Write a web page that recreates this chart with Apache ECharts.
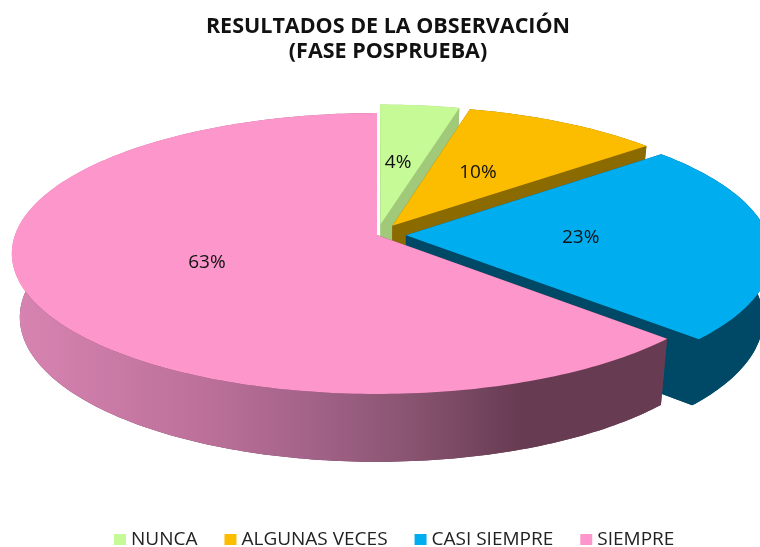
<!DOCTYPE html>
<html>
<head>
<meta charset="utf-8">
<style>
  html, body { margin: 0; padding: 0; background: #fff; }
  #chart { width: 760px; height: 547px; }
</style>
<script src="https://cdn.jsdelivr.net/npm/echarts@6/dist/echarts.min.js"></script>
</head>
<body>
<div id="chart"></div>
<script>
const categories = ['NUNCA', 'ALGUNAS VECES', 'CASI SIEMPRE', 'SIEMPRE'];
const percents = [4, 10, 23, 63];
const exploded = [true, true, true, false];

const topColors = ['#C6FA96', '#FCBC00', '#00AEEF', '#FD96CA'];
const sideColors = ['#A1C97A', '#8B6A00', '#004966', '#673B52'];

// pie plane -> screen, a perspective projection of the unit circle
const topPlane = { cx: 377, cy: 235, a: 362, b: 138, k: 0.1317 };
const bottomPlane = { cx: 377, cy: 298, a: 354, b: 142, k: 0.133 };
const explodeDist = 0.08;
const labelRadius = 0.49;
const labelShiftX = -3;

const total = percents.reduce((a, b) => a + b, 0);

function project(plane, u, v) {
    const w = 1 - plane.k * v;
    return [plane.cx + plane.a * u / w, plane.cy + plane.b * v / w];
}

// angle is clockwise from 12 o'clock
function unit(deg) {
    const r = deg * Math.PI / 180;
    return [Math.sin(r), -Math.cos(r)];
}

function sliceAngles(idx) {
    let before = 0;
    for (let i = 0; i < idx; i++) before += percents[i];
    return [before / total * 360, (before + percents[idx]) / total * 360];
}

function sliceOffset(idx) {
    if (!exploded[idx]) return [0, 0];
    const [start, end] = sliceAngles(idx);
    const m = unit((start + end) / 2);
    return [m[0] * explodeDist, m[1] * explodeDist];
}

function rimPoints(plane, idx) {
    const [start, end] = sliceAngles(idx);
    const off = sliceOffset(idx);
    const steps = Math.ceil(end - start);
    const pts = [];
    for (let i = 0; i <= steps; i++) {
        const d = unit(start + (end - start) * i / steps);
        pts.push(project(plane, d[0] + off[0], d[1] + off[1]));
    }
    return pts;
}

function poly(points, fill) {
    return { type: 'polygon', shape: { points }, style: { fill, stroke: null } };
}

function renderSlice(idx) {
    return function (params, api) {
        const off = sliceOffset(idx);
        const topRim = rimPoints(topPlane, idx);
        const botRim = rimPoints(bottomPlane, idx);
        const topApex = project(topPlane, off[0], off[1]);
        const botApex = project(bottomPlane, off[0], off[1]);
        const last = topRim.length - 1;

        let wallFill = sideColors[idx];
        if (idx === 3) {
            wallFill = new echarts.graphic.LinearGradient(0, 0, 1, 0, [
                { offset: 0, color: '#D884B2' },
                { offset: 0.3, color: '#BB7099' },
                { offset: 0.45, color: '#A4638A' },
                { offset: 0.6, color: '#8A5572' },
                { offset: 0.78, color: '#673B52' },
                { offset: 1, color: '#673B52' }
            ]);
        }

        const [start, end] = sliceAngles(idx);
        const mid = unit((start + end) / 2);
        const labelPos = project(topPlane,
            mid[0] * labelRadius + off[0], mid[1] * labelRadius + off[1]);

        return {
            type: 'group',
            children: [
                poly([botApex, ...botRim], sideColors[idx]),
                poly([topApex, topRim[0], botRim[0], botApex], sideColors[idx]),
                poly([topApex, topRim[last], botRim[last], botApex], sideColors[idx]),
                poly([...topRim, ...botRim.slice().reverse()], wallFill),
                poly([topApex, ...topRim], topColors[idx]),
                {
                    type: 'text',
                    style: {
                        x: labelPos[0] + labelShiftX, y: labelPos[1],
                        text: percents[idx] + '%',
                        fill: '#111',
                        font: '19px "Open Sans"',
                        align: 'center', verticalAlign: 'middle'
                    }
                }
            ]
        };
    };
}

const chart = echarts.init(document.getElementById('chart'), null, { renderer: 'canvas' });
chart.setOption({
    animation: false,
    backgroundColor: '#fff',
    title: {
        text: 'RESULTADOS DE LA OBSERVACIÓN\n(FASE POSPRUEBA)',
        left: 388,
        top: 14,
        padding: 0,
        textAlign: 'center',
        textStyle: {
            color: '#111',
            fontFamily: 'Open Sans',
            fontWeight: 'bold',
            fontSize: 21.5,
            lineHeight: 25
        }
    },
    legend: {
        left: 114,
        top: 530,
        padding: 0,
        itemWidth: 12,
        itemHeight: 11,
        itemGap: 27,
        icon: 'rect',
        textStyle: { color: '#222', fontFamily: 'Open Sans', fontSize: 19 },
        data: categories
    },
    series: categories.map((name, i) => ({
        type: 'custom',
        name,
        coordinateSystem: 'none',
        silent: true,
        itemStyle: { color: topColors[i] },
        renderItem: renderSlice(i),
        data: [percents[i]]
    }))
});
</script>
</body>
</html>
